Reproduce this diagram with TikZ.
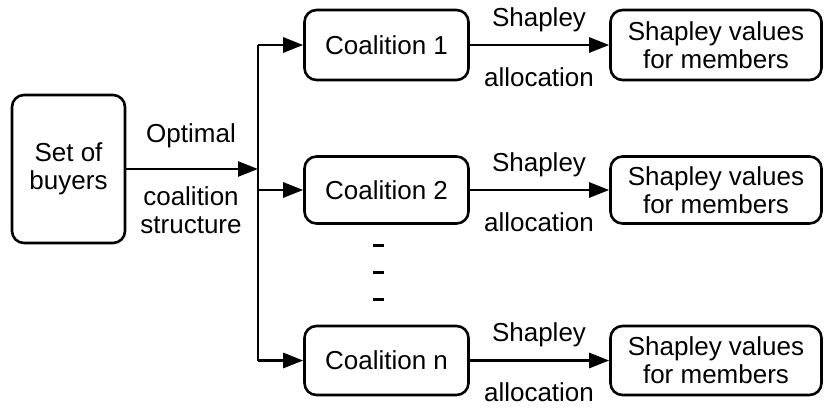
\documentclass[tikz,border=0pt]{standalone}
\usepackage{fontspec}
\setmainfont{Liberation Sans}
\usetikzlibrary{arrows.meta}
\tikzset{
  box/.style={draw, rounded corners=12pt, line width=2.6pt, inner sep=0pt, align=center},
  arr/.style={line width=2.6pt, -{Triangle[length=20pt,width=15pt]}},
  lbl/.style={inner sep=0pt, align=center},
  vline/.style={line width=2.6pt},
}
\begin{document}
\begin{tikzpicture}[x=1pt,y=-1pt, font=\fontsize{26}{28}\selectfont]
\useasboundingbox (0,0) rectangle (824,410);
\node[box, minimum width=113pt, minimum height=148pt] (buyers) at (68.5,169) {Set of\\buyers};
\node[box, minimum width=164pt, minimum height=70pt] (c1) at (386.5,45) {Coalition 1};
\node[box, minimum width=164pt, minimum height=67pt] (c2) at (386.5,190) {Coalition 2};
\node[box, minimum width=164pt, minimum height=69pt] (cn) at (386.5,360.5) {Coalition n};
\node[box, minimum width=211pt, minimum height=70pt] (s1) at (716,45) {Shapley values\\for members};
\node[box, minimum width=211pt, minimum height=67pt] (s2) at (716,190) {Shapley values\\for members};
\node[box, minimum width=211pt, minimum height=69pt] (sn) at (716,360.5) {Shapley values\\for members};
\coordinate (j0) at (258,169);
\coordinate (j1) at (258,45);
\coordinate (j2) at (258,190);
\coordinate (jn) at (258,360.5);
\draw[vline] (j1) -- (jn);
\draw[arr] (buyers.east |- j0) -- (j0);
\draw[arr] (j1) -- (c1);
\draw[arr] (j2) -- (c2);
\draw[arr] (jn) -- (cn);
\draw[arr] (c1) -- (s1);
\draw[arr] (c2) -- (s2);
\draw[arr] (cn) -- (sn);
\node[lbl] (opt) at (191,136) {Optimal};
\node[lbl] (cs) at (191,210) {coalition\\structure};
\node[lbl] (sh1) at (539,20) {Shapley};
\node[lbl] (al1) at (539,77) {allocation};
\node[lbl] (sh2) at (539,165) {Shapley};
\node[lbl] (al2) at (539,222) {allocation};
\node[lbl] (shn) at (539,335) {Shapley};
\node[lbl] (aln) at (539,392) {allocation};
\foreach \yy in {245,272,299} \draw[line width=3pt] (373,\yy) -- (384,\yy);
\end{tikzpicture}
\end{document}
